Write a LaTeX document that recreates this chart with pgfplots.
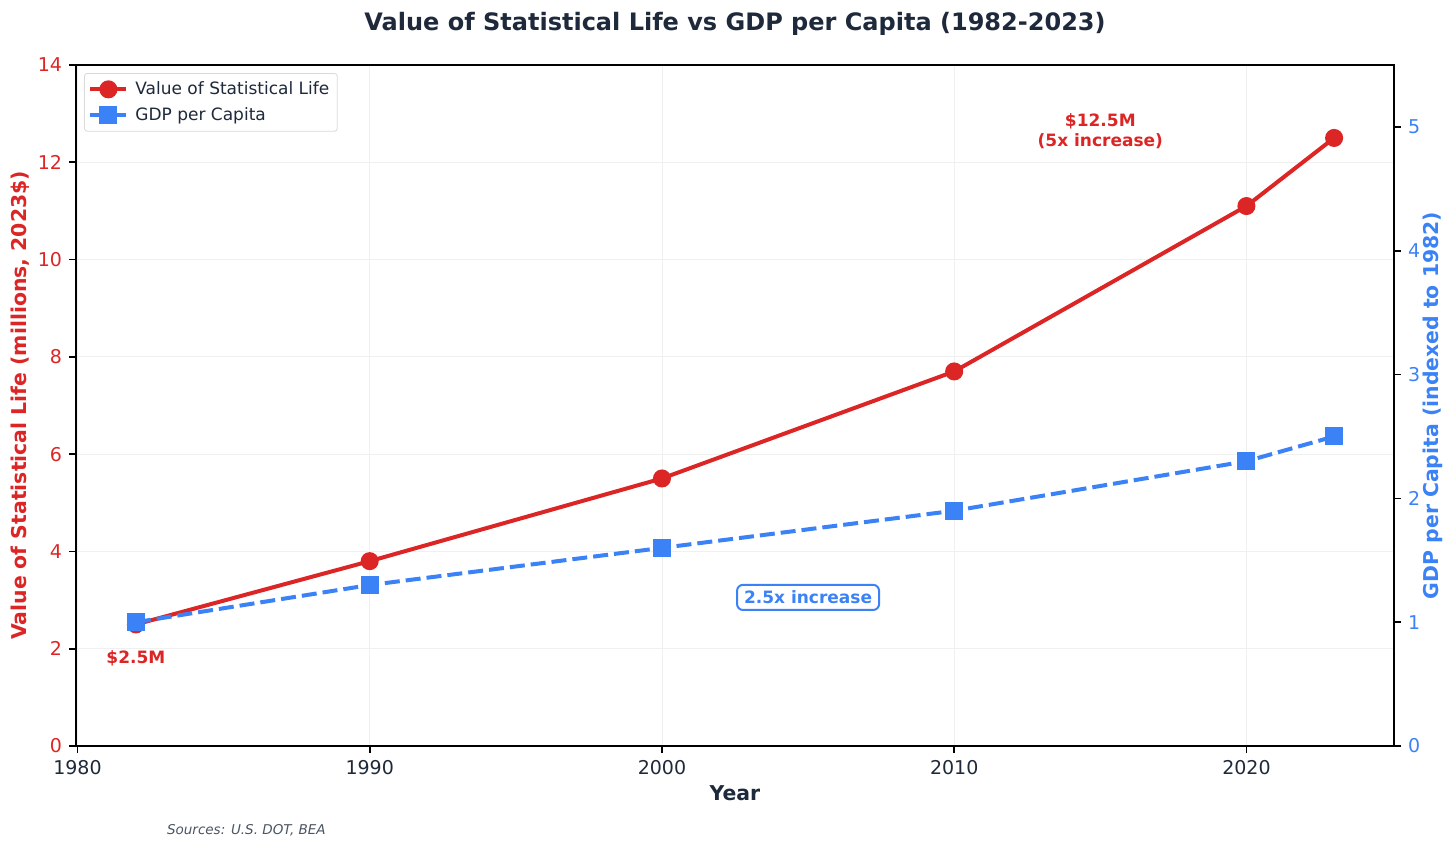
\documentclass[border=0pt]{standalone}
\usepackage{fontspec}
\setmainfont{DejaVu Sans}
\usepackage{pgfplots}
\pgfplotsset{compat=1.18}
\usetikzlibrary{calc}
\definecolor{vslred}{HTML}{DC2626}
\definecolor{gdpblue}{HTML}{3B82F6}
\definecolor{titlec}{HTML}{1E293B}
\definecolor{srcgray}{HTML}{4B5563}

\begin{document}
\begin{tikzpicture}
\pgfplotsset{
  base/.style={
    width=659pt, height=340.5pt, scale only axis,
    xmin=1979.95, xmax=2025.05, ymin=0,
    tick align=outside, major tick length=3.5pt,
    every tick/.style={black, line width=0.8pt},
    axis line style={line width=0.9pt, black},
    /pgf/number format/assume math mode=true,
    tick label style={font=\fontsize{9.5}{11}\selectfont},
    label style={font=\bfseries\fontsize{10.2}{12}\selectfont},
  },
}
\begin{axis}[base, name=ax1,
    ymax=14,
    xtick={1980,1990,2000,2010,2020},
    ytick={0,2,4,6,8,10,12,14},
    xticklabel style={/pgf/number format/1000 sep={}, text=titlec},
    yticklabel style={text=vslred},
    tick pos=left,
    grid=major, grid style={line width=0.4pt, color=black!6},
    xlabel={Year},
    xlabel style={at={(axis description cs:0.5,0)}, anchor=center, yshift=-23.5pt, text=titlec},
    ylabel={Value of Statistical Life (millions, 2023\$)},
    ylabel style={at={(axis description cs:0,0.5)}, anchor=center, yshift=28pt, text=vslred},
  ]
  % VSL, millions of 2023 dollars
  \addplot[vslred, line width=2pt, mark=*, mark size=3.5pt] coordinates {
    (1982,2.5) (1990,3.8) (2000,5.5) (2010,7.7) (2020,11.1) (2023,12.5)
  };
  \node[vslred, align=center, font=\bfseries\fontsize{8.5}{10}\selectfont] at (axis cs:2015,12.65) {\$12.5M\\(5x increase)};
  \node[vslred, font=\bfseries\fontsize{8.5}{10}\selectfont] at (axis cs:1982,1.8) {\$2.5M};
\end{axis}

\begin{axis}[base,
    ymax=5.5,
    ytick={0,1,2,3,4,5},
    axis x line=none, axis y line*=right,
    yticklabel style={text=gdpblue},
    ylabel={GDP per Capita (indexed to 1982)},
    ylabel style={at={(axis description cs:1,0.5)}, anchor=center, yshift=-19.5pt, text=gdpblue},
    legend style={at={(0,1)}, anchor=north west, xshift=4pt, yshift=-4pt,
      draw=black!15, fill=white, rounded corners=1.5pt,
      font=\fontsize{8.5}{10}\selectfont, text=titlec,
      inner sep=2pt, row sep=1pt,
      /tikz/every odd column/.style={column sep=1.5pt}},
    legend cell align=left,
    legend image code/.code={\draw[mark repeat=2,mark phase=2] plot coordinates {(0pt,0pt) (9pt,0pt) (18pt,0pt)};},
  ]
  \addlegendimage{vslred, line width=2pt, mark=*, mark size=3.5pt}
  \addlegendentry{Value of Statistical Life}
  % GDP per capita, 1982 = 1
  \addplot[gdpblue, line width=2pt, dash pattern=on 7.5pt off 3pt, mark=square*, mark size=3.5pt, mark options={solid}] coordinates {
    (1982,1.0) (1990,1.3) (2000,1.6) (2010,1.9) (2020,2.3) (2023,2.5)
  };
  \addlegendentry{GDP per Capita}
  \node[gdpblue, draw=gdpblue, fill=white, line width=1pt, rounded corners=3pt,
        inner xsep=3.5pt, inner ysep=3pt, font=\bfseries\fontsize{8.5}{10}\selectfont]
        at (axis cs:2005,1.2) {2.5x increase};
\end{axis}

\node[titlec, font=\bfseries\fontsize{12}{14}\selectfont] at ($(ax1.north)+(0,20.5pt)$) {Value of Statistical Life vs GDP per Capita (1982-2023)};
\node[srcgray, anchor=west, font=\itshape\fontsize{6.75}{8}\selectfont] at ($(ax1.south west)+(42pt,-42pt)$) {Sources: U.S. DOT, BEA};

\pgfresetboundingbox
\path ($(ax1.south west)+(-38pt,-52.5pt)$) rectangle ($(ax1.north east)+(31pt,32.5pt)$);
\end{tikzpicture}
\end{document}
